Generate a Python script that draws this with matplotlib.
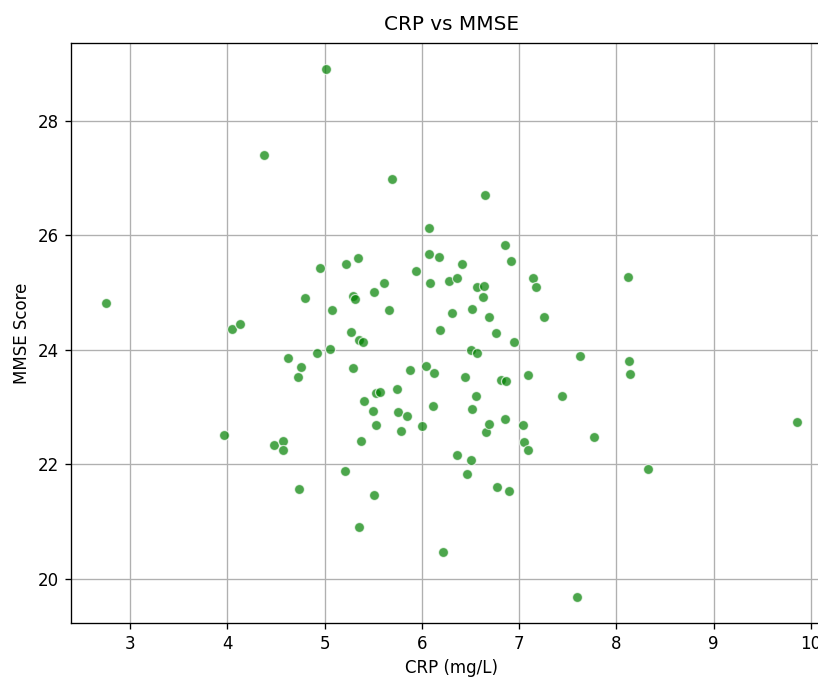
import matplotlib
matplotlib.use("Agg")
import matplotlib.pyplot as plt

crp = [2.75, 3.97, 4.05, 4.13, 4.38, 4.48, 4.57, 4.57, 4.62, 4.73,
       4.76, 4.74, 4.80, 4.92, 4.95, 5.02, 5.08, 5.06, 5.22, 5.21,
       5.27, 5.29, 5.31, 5.29, 5.34, 5.35, 5.40, 5.35, 5.37, 5.41,
       5.50, 5.51, 5.51, 5.53, 5.53, 5.57, 5.61, 5.66, 5.69, 5.75,
       5.76, 5.79, 5.85, 5.88, 5.94, 6.00, 6.04, 6.07, 6.07, 6.08,
       6.12, 6.13, 6.18, 6.19, 6.22, 6.28, 6.31, 6.36, 6.36, 6.41,
       6.44, 6.46, 6.51, 6.51, 6.52, 6.52, 6.56, 6.57, 6.57, 6.64,
       6.63, 6.65, 6.66, 6.69, 6.69, 6.76, 6.77, 6.81, 6.85, 6.85,
       6.87, 6.90, 6.92, 6.95, 7.04, 7.05, 7.09, 7.09, 7.14, 7.17,
       7.26, 7.44, 7.59, 7.63, 7.77, 8.12, 8.13, 8.14, 8.32, 9.86]

mmse = [24.82, 22.51, 24.36, 24.46, 27.41, 22.33, 22.41, 22.25, 23.85, 23.52,
        23.70, 21.57, 24.91, 23.94, 25.43, 28.90, 24.69, 24.01, 25.50, 21.88,
        24.31, 24.95, 24.89, 23.68, 25.61, 24.18, 24.14, 20.91, 22.40, 23.11,
        22.93, 25.01, 21.46, 22.69, 23.24, 23.26, 25.17, 24.69, 26.99, 23.31,
        22.91, 22.58, 22.85, 23.64, 25.37, 22.67, 23.71, 26.13, 25.68, 25.17,
        23.02, 23.59, 25.63, 24.35, 20.47, 25.20, 24.64, 25.26, 22.17, 25.50,
        23.52, 21.83, 24.00, 22.08, 24.71, 22.97, 23.20, 23.94, 25.09, 25.12,
        24.93, 26.71, 22.56, 22.70, 24.58, 24.29, 21.60, 23.47, 25.83, 22.80,
        23.46, 21.53, 25.55, 24.14, 22.69, 22.39, 23.57, 22.25, 25.26, 25.10,
        24.58, 23.20, 19.69, 23.89, 22.47, 25.28, 23.81, 23.58, 21.92, 22.74]

DPI = 120
fig = plt.figure(figsize=(818 / DPI, 677 / DPI), dpi=DPI)
ax = fig.add_axes([71/818, 1 - 623/677, (832 - 71)/818, (623 - 43)/677])
ax.scatter(crp, mmse, s=36, color="green", alpha=0.7, edgecolors="white", linewidths=0.75)
ax.set_title("CRP vs MMSE", fontsize=12, pad=8)
ax.set_xlabel("CRP (mg/L)")
ax.set_ylabel("MMSE Score")
ax.grid(True)
ax.set_axisbelow(True)
fig.savefig("out.png", dpi=DPI)
